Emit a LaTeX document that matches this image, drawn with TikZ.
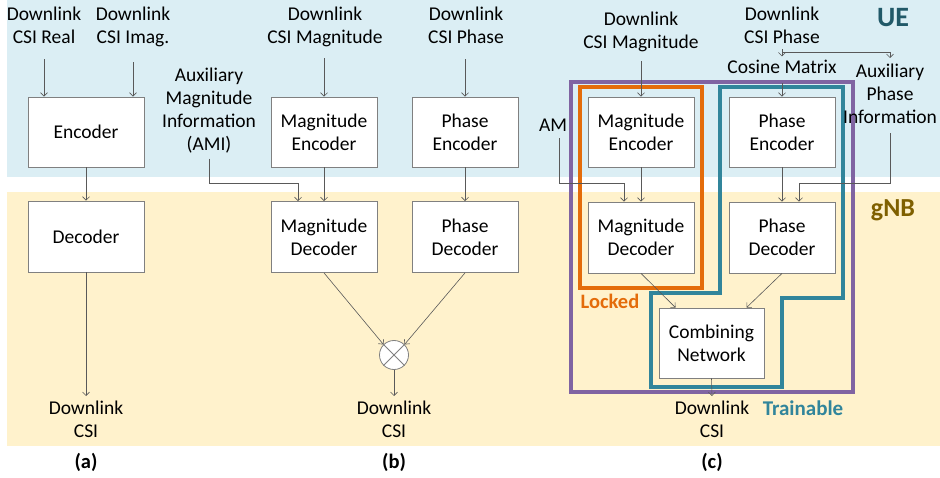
\documentclass[tikz,border=0pt]{standalone}
\usepackage{fontspec}
\setmainfont{Carlito}
\usetikzlibrary{arrows.meta,calc}

\definecolor{uebg}{RGB}{219,238,244}
\definecolor{gnbbg}{RGB}{255,242,204}
\definecolor{boxgray}{RGB}{128,128,128}
\definecolor{arrgray}{RGB}{89,89,89}
\definecolor{purplec}{RGB}{128,100,162}
\definecolor{orangec}{RGB}{228,108,10}
\definecolor{tealc}{RGB}{49,133,155}
\definecolor{uec}{RGB}{33,89,104}
\definecolor{gnbc}{RGB}{127,96,0}

\newcommand\diagfs{\fontsize{19.5}{23}\selectfont}
\newcommand\tagfs{\fontsize{20.5}{24}\selectfont\bfseries}

\begin{document}
\begin{tikzpicture}[x=1pt,y=-1pt,
  box/.style={draw=boxgray, fill=white, line width=0.8pt, minimum width=106pt,
    minimum height=70pt, inner sep=0pt, align=center, font=\diagfs},
  lbl/.style={align=center, inner sep=0pt, font=\diagfs, text=black},
  tag/.style={inner sep=0pt, font=\tagfs, anchor=base},
  arr/.style={draw=arrgray, line width=0.6pt, -{Straight Barb[length=3.5pt,width=7pt]}},
  grp/.style={line width=3.2pt}
]
\useasboundingbox (0,0) rectangle (940,478);

% UE and gNB bands
\fill[uebg] (7,0) rectangle (940,177);
\fill[gnbbg] (7,192) rectangle (940,446);
\node[tag, font=\fontsize{28}{30}\selectfont\bfseries, text=uec] (ue) at (893,27) {UE};
\node[tag, font=\fontsize{26}{30}\selectfont\bfseries, text=gnbc] (gnb) at (893,217) {gNB};

% ---------- (a) real/imaginary autoencoder ----------
\node[box, minimum width=116pt] (enc) at (86,132) {Encoder};
\node[box, minimum width=116pt, minimum height=71pt] (dec) at (86,236.5) {Decoder};
\node[lbl, anchor=north] (real) at (44,7) {Downlink\\CSI Real};
\node[lbl, anchor=north] (imag) at (133,7) {Downlink\\CSI Imag.};
\node[lbl, anchor=north] (outa) at (86,401) {Downlink\\CSI};
\draw[arr] ([yshift=-15pt]real.south) -- (real.south |- enc.north);
\draw[arr] ([yshift=-15pt]imag.south) -- (imag.south |- enc.north);
\draw[arr] (enc.south) -- (dec.north);
\draw[arr] (dec.south) -- ([yshift=5pt]outa.north);
\node[tag] (capa) at (86,468) {(a)};

% ---------- (b) magnitude/phase autoencoders ----------
\node[box] (bmenc) at (324,132) {Magnitude\\Encoder};
\node[box, minimum height=71pt] (bmdec) at (324,237) {Magnitude\\Decoder};
\node[box] (bpenc) at (465,132) {Phase\\Encoder};
\node[box, minimum height=71pt] (bpdec) at (465,237) {Phase\\Decoder};
\node[lbl, anchor=north] (bmag) at (325,7) {Downlink\\CSI Magnitude};
\node[lbl, anchor=north] (bph) at (466,7) {Downlink\\CSI Phase};
\node[lbl, anchor=north] (ami) at (209,68) {Auxiliary\\Magnitude\\Information\\(AMI)};
\node[draw=boxgray, fill=white, circle, minimum size=29pt, inner sep=0pt,
  line width=0.8pt] (mult) at (394,355) {};
\draw[boxgray, line width=0.8pt] (mult.north west) -- (mult.south east)
  (mult.north east) -- (mult.south west);
\node[lbl, anchor=north] (outb) at (394,401) {Downlink\\CSI};
\coordinate (amiin) at ([xshift=-26pt]bmdec.north);
\draw[arr] ([yshift=-11pt]bmenc.north |- bmag.south) -- (bmenc.north);
\draw[arr] ([yshift=-15pt]bpenc.north |- bph.south) -- (bpenc.north);
\draw[arr] ([yshift=-5pt]ami.south) |- ([yshift=18pt]amiin) -- (amiin);
\draw[arr] (bmenc.south) -- (bmdec.north);
\draw[arr] (bpenc.south) -- (bpdec.north);
\draw[arr] (bmdec.south) -- (mult.north west);
\draw[arr] (bpdec.south) -- (mult.north east);
\draw[arr] (mult.south) -- ([yshift=5pt]outb.north);
\node[tag] (capb) at (394,468) {(b)};

% ---------- (c) combined network with locked/trainable parts ----------
\draw[grp, purplec] (571,82) rectangle (853,392);
\draw[grp, orangec] (580,87) rectangle (702,288);
\draw[grp, tealc] (720,87) -- (843,87) -- (843,298) -- (782,298) -- (782,387)
  -- (651,387) -- (651,293) -- (720,293) -- cycle;

\node[box] (cmenc) at (641,132) {Magnitude\\Encoder};
\node[box, minimum height=71pt] (cmdec) at (641,237.5) {Magnitude\\Decoder};
\node[box] (cpenc) at (782,132) {Phase\\Encoder};
\node[box, minimum height=71pt] (cpdec) at (782,237.5) {Phase\\Decoder};
\node[box, minimum width=105pt] (comb) at (711.5,343) {Combining\\Network};
\node[lbl, anchor=north] (cmag) at (641,12) {Downlink\\CSI Magnitude};
\node[lbl, anchor=north] (cph) at (782,7) {Downlink\\CSI Phase};
\node[lbl, anchor=base] (cos) at (782,74) {Cosine Matrix};
\node[lbl, anchor=north] (aux) at (890,64) {Auxiliary\\Phase\\Information};
\node[lbl, anchor=base] (am) at (553,132) {AM};
\node[lbl, anchor=north] (outc) at (712,401) {Downlink\\CSI};

\coordinate (amin) at ([xshift=-17pt]cmdec.north);
\coordinate (auxin) at ([xshift=17pt]cpdec.north);
\draw[arr] ([yshift=-9pt]cmenc.north |- cmag.south) -- (cmenc.north);
\draw[arr] ([yshift=-5pt]cph.south) -- ([yshift=4pt]cos.north);
\draw[arr] ([yshift=-8pt]cph.south) -| ([yshift=6pt]aux.north);
\draw[arr] ([yshift=-9pt]cos.south) -- (cpenc.north);
\draw[arr] ([xshift=6pt,yshift=-6pt]am.south) |- ([yshift=18pt]amin) -- (amin);
\draw[arr] ([yshift=-9pt]aux.south) |- ([yshift=18pt]auxin) -- (auxin);
\draw[arr] (cmenc.south) -- (cmdec.north);
\draw[arr] (cpenc.south) -- (cpdec.north);
\draw[arr] (cmdec.south) -- ([xshift=-36pt]comb.north);
\draw[arr] (cpdec.south) -- ([xshift=35pt]comb.north);
\draw[arr] (comb.south) -- ([yshift=5pt]outc.north);

\node[tag, text=orangec] (locked) at (610,309) {Locked};
\node[tag, text=tealc, font=\fontsize{21}{24}\selectfont\bfseries] (train) at (803,415) {Trainable};
\node[tag] (capc) at (712,468) {(c)};
\end{tikzpicture}
\end{document}
